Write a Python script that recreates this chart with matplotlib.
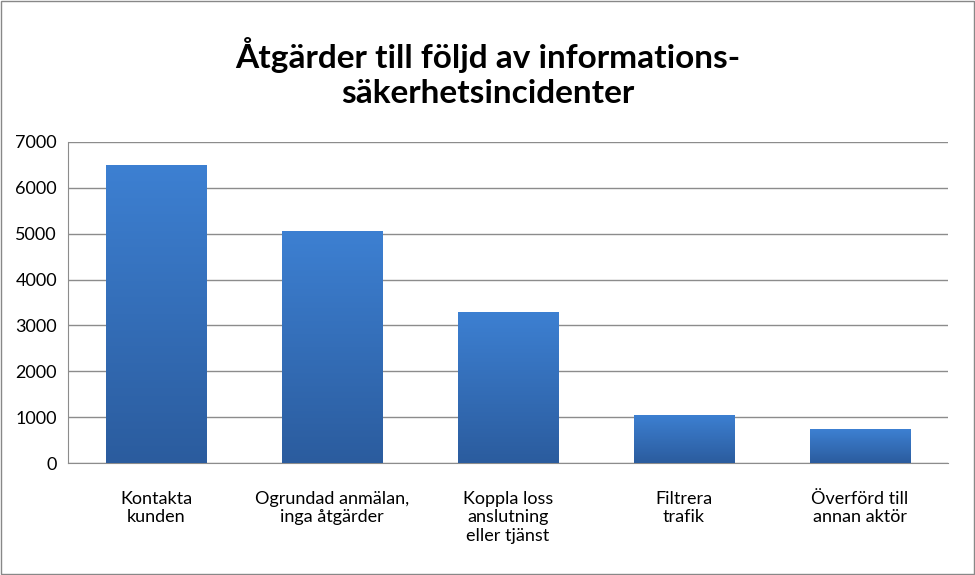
import matplotlib.pyplot as plt
import numpy as np
from matplotlib.patches import Rectangle

categories = ['Kontakta\nkunden', 'Ogrundad anmälan,\ninga åtgärder',
              'Koppla loss\nanslutning\neller tjänst', 'Filtrera\ntrafik',
              'Överförd till\nannan aktör']
values = [6500, 5050, 3300, 1050, 740]
yticks = [0, 1000, 2000, 3000, 4000, 5000, 6000, 7000]

plt.rcParams['font.family'] = 'Lato'
fig = plt.figure(figsize=(9.75, 5.75), dpi=100)
fig.patches.append(Rectangle((0.001, 0.001), 0.998, 0.998, transform=fig.transFigure,
                             fill=False, edgecolor='#888888', lw=1))
ax = fig.add_axes([68 / 975, 1 - 463 / 575, 880 / 975, 321 / 575])

grad = np.linspace(0, 1, 256).reshape(-1, 1)
cmap = plt.matplotlib.colors.LinearSegmentedColormap.from_list('b', ['#2b5c9e', '#3d80d2'])
width = 0.57
for i, v in enumerate(values):
    bar = ax.bar(i, v, width=width, color='none', zorder=3)[0]
    im = ax.imshow(grad, cmap=cmap, aspect='auto', origin='lower',
                   extent=(i - width / 2, i + width / 2, 0, v), zorder=3)
    im.set_clip_path(bar)

ax.set_xlim(-0.5, len(values) - 0.5)
ax.set_ylim(0, 7000)
ax.set_yticks(yticks)
ax.set_yticklabels([str(t) for t in yticks], fontsize=13)
ax.set_xticks(range(len(values)))
ax.set_xticklabels(categories, fontsize=13, linespacing=1.2)
ax.tick_params(axis='x', length=0, pad=20)
ax.tick_params(axis='y', length=0, pad=8)
ax.yaxis.grid(True, color='#8c8c8c', lw=1)
ax.set_axisbelow(True)
for s in ['top', 'right']:
    ax.spines[s].set_visible(False)
ax.spines['left'].set_color('#8c8c8c')
ax.spines['bottom'].set_color('#8c8c8c')

fig.text(0.5, 0.935, 'Åtgärder till följd av informations-\nsäkerhetsincidenter',
         ha='center', va='top', fontsize=24, fontweight='bold', linespacing=1.25)

fig.savefig('out.png', dpi=100)
